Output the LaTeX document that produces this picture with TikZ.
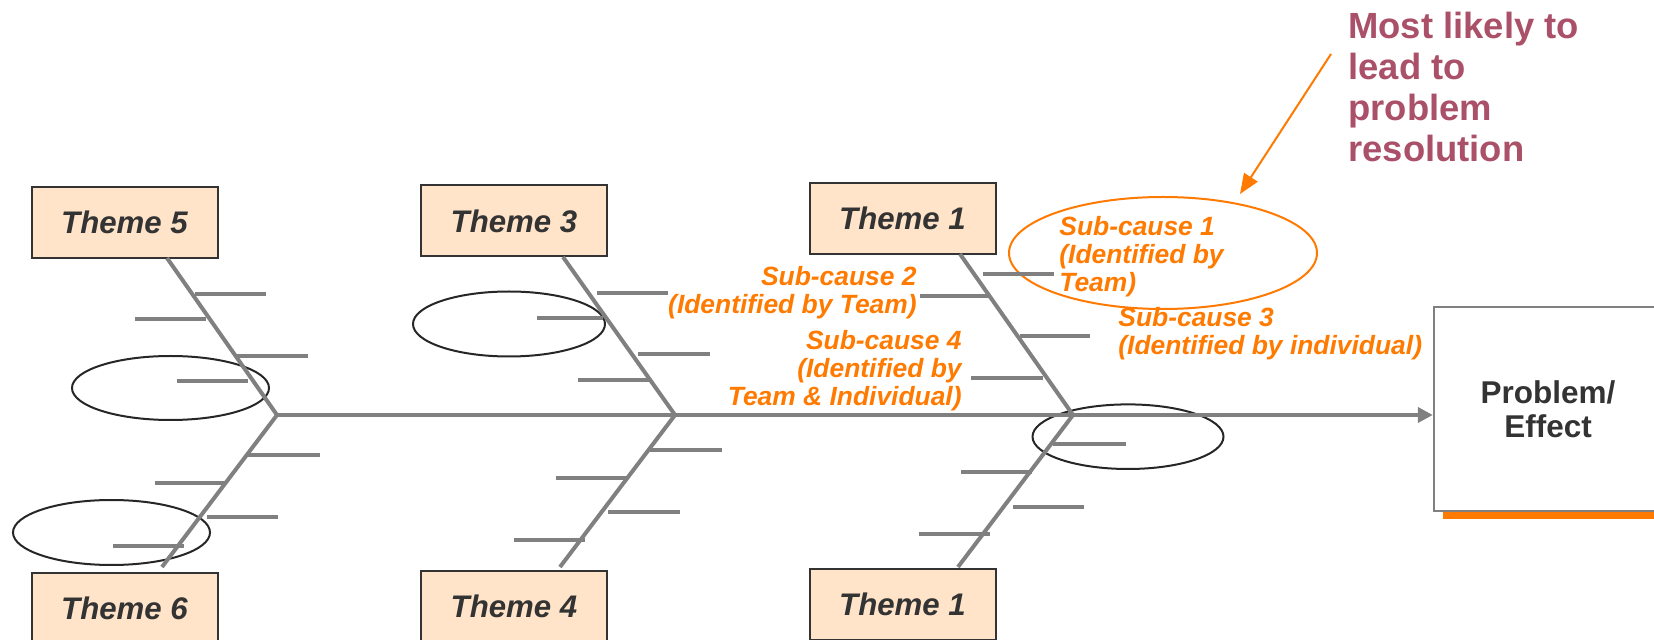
\documentclass[tikz,border=0pt]{standalone}
\usepackage{fontspec}
\setmainfont{Liberation Sans}
\usetikzlibrary{arrows.meta,shapes.geometric}
\definecolor{bonegray}{HTML}{808080}
\definecolor{peach}{HTML}{FFE4CA}
\definecolor{darktext}{HTML}{333333}
\definecolor{orng}{HTML}{FF7A00}
\definecolor{maroon}{HTML}{AA5068}
\begin{document}
\begin{tikzpicture}[x=0.5pt,y=-0.5pt,
  theme/.style={draw=darktext, line width=1pt, fill=peach, minimum width=93pt, minimum height=35.5pt, inner sep=0pt, font=\fontsize{15.6}{18}\selectfont\bfseries\itshape, text=darktext},
  bone/.style={draw=bonegray, line width=2pt},
  sub/.style={draw=bonegray, line width=2pt},
  circ/.style={draw=black!85, line width=1pt},
  cause/.style={inner sep=0pt, text=orng, font=\fontsize{13.2}{14.1}\selectfont\bfseries\itshape},
]
\useasboundingbox (0,0) rectangle (1654,640);

% theme boxes
\node[theme] (t5) at (124.5,222.5) {Theme 5};
\node[theme] (t6) at (124.5,608.5) {Theme 6};
\node[theme] (t3) at (514,221) {Theme 3};
\node[theme] (t4) at (514,606.5) {Theme 4};
\node[theme] (t1a) at (902.5,218.5) {Theme 1};
\node[theme] (t1b) at (902.5,604.5) {Theme 1};

% problem box
\fill[orng] (1443,512) rectangle (1665,519);
\node[draw=bonegray, line width=1.2pt, fill=white, minimum width=114pt, minimum height=102pt, inner sep=0pt,
      align=center, text=darktext, font=\fontsize{15.75}{17}\selectfont\bfseries] (pe) at (1548,409) {Problem/\\Effect};

% junctions and bone ends
\coordinate (j5) at (277,415);
\coordinate (j3) at (675,415);
\coordinate (j1) at (1073,415);
\coordinate (b5t) at (167,258);
\coordinate (b5b) at (162,567);
\coordinate (b3t) at (563,257);
\coordinate (b3b) at (560,567);
\coordinate (b1t) at (960,254);
\coordinate (b1b) at (958,567);

% ellipses (behind bones)
\draw[circ] (170.5,388) ellipse [x radius=49.25pt, y radius=16pt];
\draw[circ] (111.5,532.5) ellipse [x radius=49.25pt, y radius=16.25pt];
\draw[circ] (509,324) ellipse [x radius=48pt, y radius=16.25pt];
\draw[circ] (1128,436.7) ellipse [x radius=47.75pt, y radius=16.15pt];
\draw[orng, line width=1pt] (1163,253) ellipse [x radius=77pt, y radius=28pt];

% spine
\draw[bone, -{Triangle[length=7.5pt,width=7.5pt]}] (j5) -- (j5 -| pe.west);

% main bones
\draw[bone] (b5t) -- (j5) -- (b5b);
\draw[bone] (b3t) -- (j3) -- (b3b);
\draw[bone] (b1t) -- (j1) -- (b1b);

% sub-bones
\foreach \a/\b/\y in {195/266/294, 135/206/319, 235/308/356, 177/248/381,
                      248/320/455, 155/225/483, 207/278/517, 113/184/546,
                      597/668/293, 537/603/318, 638/710/354, 578/650/380,
                      650/722/450, 556/627/478, 608/680/512, 514/585/540,
                      983/1054/274, 920/990/296, 1020/1090/336, 971/1043/378,
                      1053/1126/444, 961/1032/472, 1013/1084/507, 919/990/534}
  \draw[sub] (\a,\y) -- (\b,\y);

% sub-cause labels (base anchor = baseline of last line)
\node[cause, anchor=base west, align=left] (sc1) at (1059,291.7) {Sub-cause 1\\(Identified by\\Team)};
\node[cause, anchor=base east, align=right] (sc2) at (917,313.3) {Sub-cause 2\\(Identified by Team)};
\node[cause, anchor=base west, align=left] (sc3) at (1118,355) {Sub-cause 3\\(Identified by individual)};
\node[cause, anchor=base east, align=right] (sc4) at (962,406) {Sub-cause 4\\(Identified by\\Team \& Individual)};

% callout
\node[anchor=base west, align=left, inner sep=0pt, text=maroon, font=\fontsize{18.2}{20.55}\selectfont\bfseries] (ml) at (1348,161.7) {Most likely to\\lead to\\problem\\resolution};
\coordinate (ap) at (1331,54);
\coordinate (at) at (1240,194);
\draw[orng, line width=1pt, -{Triangle[length=10pt,width=8pt]}] (ap) -- (at);
\end{tikzpicture}
\end{document}
